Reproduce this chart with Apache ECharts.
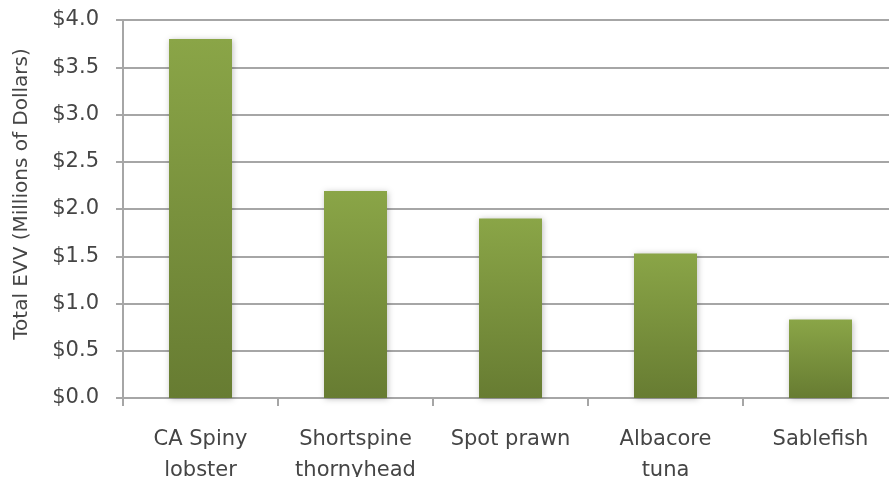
<!DOCTYPE html>
<html><head><meta charset="utf-8">
<script src="https://cdn.jsdelivr.net/npm/echarts@6/dist/echarts.min.js"></script>
<style>html,body{margin:0;padding:0;background:#fff}#c{width:889px;height:477px}</style>
</head><body><div id="c"></div>
<script>
var categories = ["CA Spiny\nlobster", "Shortspine\nthornyhead", "Spot prawn", "Albacore\ntuna", "Sablefish"];
var values = [3.80, 2.19, 1.90, 1.53, 0.83];
var yTicks = [0, 0.5, 1, 1.5, 2, 2.5, 3, 3.5, 4];
var yName = "Total EVV (Millions of Dollars)";
var font = "DejaVu Sans";
var chart = echarts.init(document.getElementById('c'), null, {renderer: 'canvas'});
chart.setOption({
  animation: false,
  grid: {left: 123, right: -9, top: 20, bottom: 79, containLabel: false, outerBoundsMode: 'none'},
  xAxis: {
    type: 'category', data: categories,
    axisLine: {lineStyle: {color: '#a6a6a6', width: 2}},
    axisTick: {show: true, length: 8, lineStyle: {color: '#a6a6a6', width: 2}},
    axisLabel: {color: '#454545', fontFamily: font, fontSize: 21, lineHeight: 31, margin: 26, interval: 0}
  },
  yAxis: {
    type: 'value', min: yTicks[0], max: yTicks[yTicks.length-1], interval: 0.5,
    name: yName, nameLocation: 'middle', nameGap: 91, nameRotate: 90,
    nameTextStyle: {color: '#454545', fontFamily: font, fontSize: 20, padding: [0, 0, 0, 30]},
    axisLine: {show: true, lineStyle: {color: '#a6a6a6', width: 2}},
    axisTick: {show: true, length: 7, lineStyle: {color: '#a6a6a6', width: 2}},
    splitLine: {lineStyle: {color: '#a6a6a6', width: 2}},
    axisLabel: {color: '#454545', fontFamily: font, fontSize: 21, margin: 24,
      formatter: function(v){ return '$' + v.toFixed(1); }}
  },
  series: [{
    type: 'bar', data: values, barWidth: 63,
    itemStyle: {
      color: new echarts.graphic.LinearGradient(0, 0, 0, 1, [
        {offset: 0, color: '#8aa547'}, {offset: 1, color: '#677c32'}]),
      shadowBlur: 6, shadowColor: 'rgba(0,0,0,0.25)', shadowOffsetX: 1, shadowOffsetY: 1
    }
  }]
});
</script></body></html>
